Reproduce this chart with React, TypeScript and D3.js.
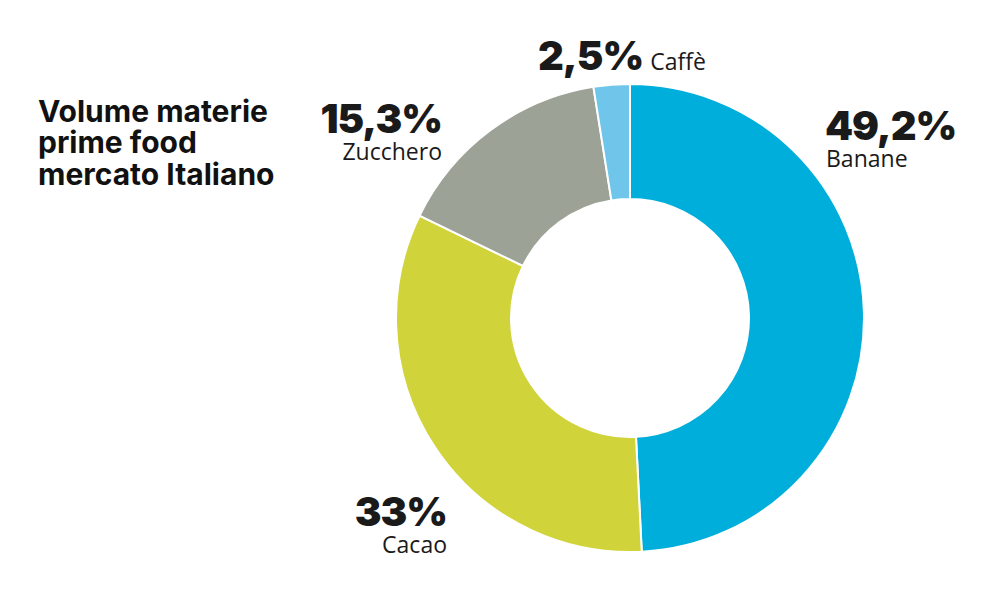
import React from 'react';
import * as d3 from 'd3';

const categories = ['Banane', 'Cacao', 'Zucchero', 'Caffè'];
const values = [49.2, 33, 15.3, 2.5];
const valueLabels = ['49,2%', '33%', '15,3%', '2,5%'];
const colors = ['#00AEDB', '#D0D43A', '#9CA295', '#70C5EA'];

const width = 1000;
const height = 592;
const cx = 630;
const cy = 318;
const outerR = 234;
const innerR = 119;

// label anchors relative to the chart, per category
const labelPos: Record<string, { x: number; y: number; anchor: string; inline?: boolean }> = {
  Banane: { x: 825, y: 140, anchor: 'start' },
  Cacao: { x: 447, y: 526, anchor: 'end' },
  Zucchero: { x: 442, y: 133, anchor: 'end' },
  'Caffè': { x: 538, y: 70, anchor: 'start', inline: true },
};

export default function App() {
  const pie = d3
    .pie<number>()
    .sort(null)
    .value(d => d);
  const arcs = pie(values);
  const arc = d3.arc<d3.PieArcDatum<number>>().innerRadius(innerR).outerRadius(outerR);

  const pctFont = 'Inter, "DejaVu Sans", sans-serif';
  const lblFont = '"Open Sans", "DejaVu Sans", sans-serif';

  return (
    <svg
      width={width}
      height={height}
      style={{ position: 'absolute', left: 0, top: 0, background: '#fff' }}
    >
      <g transform={`translate(${cx},${cy})`}>
        {arcs.map((a, i) => (
          <path key={categories[i]} d={arc(a) || ''} fill={colors[i]} stroke="#fff" strokeWidth={2} />
        ))}
      </g>

      <text fontFamily={pctFont} fontWeight={700} fontSize={30} fill="#111">
        <tspan x={38} y={122}>Volume materie</tspan>
        <tspan x={38} y={153}>prime food</tspan>
        <tspan x={38} y={185}>mercato Italiano</tspan>
      </text>

      {categories.map((c, i) => {
        const p = labelPos[c];
        if (p.inline) {
          return (
            <text key={c} x={p.x} y={p.y} fill="#1a1a1a">
              <tspan fontFamily={pctFont} fontWeight={900} fontSize={40} letterSpacing={-1}>
                {valueLabels[i]}
              </tspan>
              <tspan fontFamily={lblFont} fontSize={23} dx={7}>
                {c}
              </tspan>
            </text>
          );
        }
        return (
          <g key={c}>
            <text
              x={p.x}
              y={p.y}
              textAnchor={p.anchor}
              fontFamily={pctFont}
              fontWeight={900}
              fontSize={40}
              letterSpacing={-1}
              fill="#1a1a1a"
            >
              {valueLabels[i]}
            </text>
            <text
              x={p.x + (p.anchor === 'start' ? 1 : 0)}
              y={p.y + 27}
              textAnchor={p.anchor}
              fontFamily={lblFont}
              fontSize={23}
              fill="#1a1a1a"
            >
              {c}
            </text>
          </g>
        );
      })}
    </svg>
  );
}
